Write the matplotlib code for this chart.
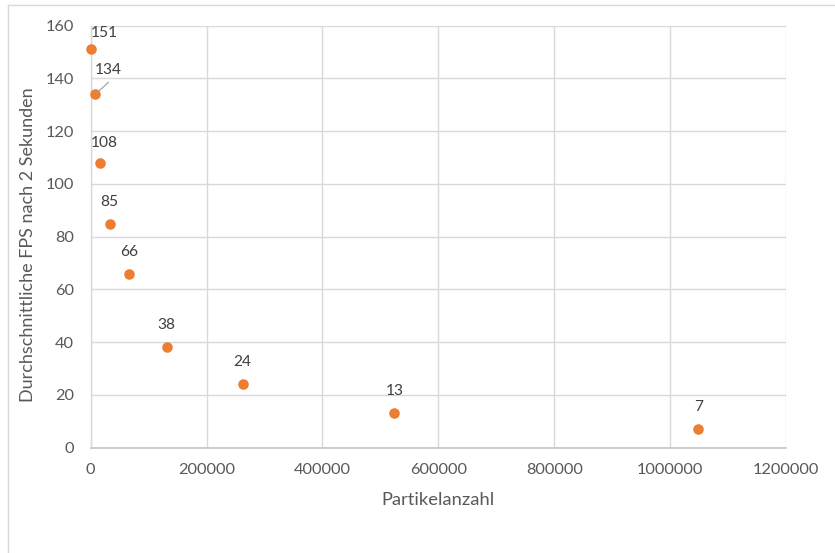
import matplotlib
matplotlib.use("Agg")
import matplotlib.pyplot as plt
from matplotlib.lines import Line2D

# Particle count vs. average FPS after 2 seconds
particles = [1024, 8192, 16384, 32768, 65536, 131072, 262144, 524288, 1048576]
fps = [151, 134, 108, 85, 66, 38, 24, 13, 7]

x_ticks = [0, 200000, 400000, 600000, 800000, 1000000, 1200000]
y_ticks = [0, 20, 40, 60, 80, 100, 120, 140, 160]

x_title = "Partikelanzahl"
y_title = "Durchschnittliche FPS nach 2 Sekunden"

W, H, DPI = 835, 553, 100
plt.rcParams["font.family"] = ["Lato", "DejaVu Sans"]

fig = plt.figure(figsize=(W / DPI, H / DPI), dpi=DPI)

# plot area in pixel coordinates
left, right, top, bottom = 90.7, 786.0, 25.7, 447.7
ax = fig.add_axes([left / W, 1 - bottom / H, (right - left) / W, (bottom - top) / H])

grid_c = "#D9D9D9"
text_c = "#595959"
label_c = "#404040"
orange = "#ED7D31"

ax.set_xlim(0, 1200000)
ax.set_ylim(0, 160)
ax.set_xticks(x_ticks)
ax.set_yticks(y_ticks)
ax.set_xticklabels([str(v) for v in x_ticks])
ax.set_yticklabels([str(v) for v in y_ticks])
ax.grid(True, color=grid_c, linewidth=1.0)
ax.set_axisbelow(True)
for s in ["top", "right"]:
    ax.spines[s].set_visible(False)
ax.spines["left"].set_color(grid_c)
ax.spines["left"].set_linewidth(1.0)
ax.spines["bottom"].set_color("#C9C9C9")
ax.spines["bottom"].set_linewidth(1.3)
ax.tick_params(axis="both", length=0, labelsize=11.8, labelcolor=text_c)
ax.tick_params(axis="x", pad=11.0)
ax.tick_params(axis="y", pad=12.0)

ax.plot(particles, fps, linestyle="none", marker="o", markersize=7.6,
        color=orange, markeredgewidth=0, clip_on=False, zorder=3)

# label offsets in pixels (dx, dy to baseline), default above the marker
px = 72 / DPI
offsets = {0: (13.2, 12), 1: (12.7, 20), 2: (4.5, 16)}
for i, (xv, yv) in enumerate(zip(particles, fps)):
    dx, dy = offsets.get(i, (0, 18))
    ax.annotate(str(yv), (xv, yv), xytext=(dx * px, dy * px),
                textcoords="offset points", ha="center", va="baseline",
                fontsize=11.2, color=label_c, zorder=4, annotation_clip=False)

# leader line from the 134 marker to its moved label
ax.annotate("", xy=(particles[1], fps[1]), xytext=(13.0 * px, 12.0 * px),
            textcoords="offset points",
            arrowprops=dict(arrowstyle="-", color="#A6A6A6", lw=0.9,
                            shrinkA=0, shrinkB=1.5))

fig.text(438.4 / W, 1 - 500 / H, x_title, ha="center", va="center",
         fontsize=13.2, color=text_c)
fig.text(28.5 / W, 1 - 245 / H, y_title, ha="center", va="center",
         rotation=90, fontsize=13.0, color=text_c)

# chart frame (left and top edges)
fig.add_artist(Line2D([8.3 / W, 8.3 / W], [0, 1 - 5 / H], color=grid_c,
                      linewidth=1.0, transform=fig.transFigure))
fig.add_artist(Line2D([8.3 / W, 1], [1 - 5 / H, 1 - 5 / H], color=grid_c,
                      linewidth=1.0, transform=fig.transFigure))

fig.savefig("out.png", dpi=DPI)
